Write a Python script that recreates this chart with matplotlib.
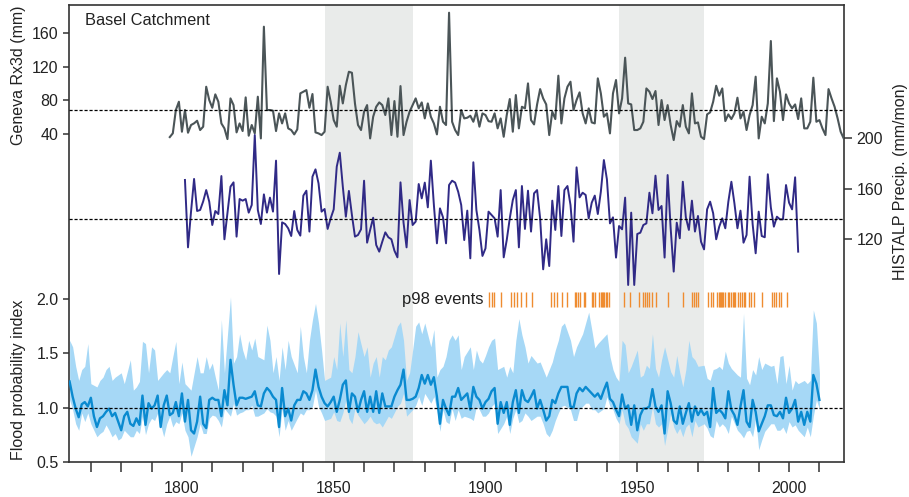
import matplotlib
matplotlib.use('Agg')
import matplotlib.pyplot as plt
import numpy as np

plt.rcParams['font.family'] = ['Liberation Sans', 'DejaVu Sans']

# ---------------- data ----------------
geneva_start = 1796
geneva_rx3d = [
    36.0, 40.5, 68.3, 78.2, 42.4, 68.3, 41.2, 50.4, 52.4, 55.5, 44.4, 48.4, 96.1,
    80.2, 71.0, 87.0, 78.2, 52.3, 46.4, 33.6, 82.2, 74.2, 41.6, 52.3, 43.2, 83.4, 37.6, 50.4, 40.4, 84.2, 34.4, 167.8,
    68.3, 68.3, 67.5, 43.2, 64.3, 52.3, 64.3, 46.4, 44.4, 39.2,
    45.2, 88.2, 90.2, 92.1, 71.0, 87.4, 41.6, 40.4, 38.4, 42.4,
    96.1, 78.2, 56.3, 48.4, 97.3, 76.2, 98.1, 114.0, 112.8, 76.2,
    50.4, 44.4, 66.3, 74.2, 34.4, 60.3, 72.2, 77.4, 74.2, 62.3,
    82.2, 38.4, 79.0, 36.4, 96.9, 38.4, 54.3, 66.3, 74.2, 82.2,
    70.3, 77.4, 58.3, 76.2, 60.3, 52.3, 39.2, 72.2, 54.3, 50.4,
    184.5,
    54.3, 44.4, 38.4, 68.3, 58.3, 59.1, 61.5, 54.3, 66.3, 48.4, 64.3, 62.3, 55.0, 54.3, 64.3, 46.4, 58.3, 36.4,
    62.3, 81.4, 42.4, 86.2, 46.4, 72.2, 70.3, 100.1, 56.3, 51.1,
    75.0, 93.3, 82.2, 75.0, 38.4, 66.3, 57.5, 109.3, 52.3, 82.2,
    96.1, 102.1, 68.3, 80.2, 89.4, 64.3, 52.3, 70.3, 53.5, 52.3,
    106.1, 88.2, 60.3, 64.3, 40.4, 88.2, 104.1, 64.3, 82.2, 130.8,
    76.2, 75.0, 44.4, 44.4, 46.4, 54.3, 94.1, 90.2, 81.4, 91.0,
    50.4, 80.2, 56.3, 74.2, 50.4, 32.4, 55.1, 48.4, 74.2, 48.4,
    40.4, 88.2, 52.3, 53.5, 36.4, 33.6, 63.1, 65.5, 78.2, 97.3,
    85.4, 94.1, 55.1, 63.1, 57.5, 64.3, 83.0, 58.3, 66.3, 44.4,
    62.3, 74.2, 108.1, 34.4, 60.3, 52.3, 76.2, 150.7, 55.1, 106.1,
    90.2, 56.3, 87.0, 76.2, 70.3, 75.0, 57.5, 82.2, 46.4, 46.4,
    54.3, 106.9, 54.3, 56.3, 46.4, 38.4, 93.3, 82.2, 72.2, 58.3,
    42.4, 34.4,
]
geneva_mean = 68.5

histalp_start = 1801
histalp_precip = [
    167.0, 113.6, 141.9, 167.8, 142.4, 143.2, 150.0, 159.0, 149.8, 131.3,
    142.4, 140.0, 170.1, 120.0, 140.6, 161.7, 165.1, 122.1, 151.9, 150.6,
    151.9, 141.1, 147.2, 202.6, 143.2, 132.1, 155.6, 141.1, 153.0, 141.9,
    182.3, 92.5, 133.4, 132.1, 128.7, 122.6, 142.4, 127.4, 122.9, 154.6,
    158.5, 126.1, 169.6, 175.4, 164.3, 141.9, 144.0, 128.2, 136.6, 143.7,
    177.5, 188.6, 161.7, 137.9, 158.3, 139.2, 122.1, 123.4, 127.9, 166.4,
    117.3, 127.4, 137.1, 115.5, 110.2, 118.1, 125.5, 121.6, 120.0, 111.0,
    105.7, 165.1, 133.2, 113.6, 151.1, 131.3, 134.0, 163.8, 152.4, 164.9,
    145.3, 182.3, 147.2, 116.8, 144.5, 137.4, 116.8, 163.0, 166.4, 164.9,
    157.7, 147.2, 119.4, 142.7, 104.9, 181.0, 143.2, 127.4, 106.8, 112.8,
    141.9, 139.2, 136.6, 122.1, 159.0, 105.7,
    119.4, 136.6, 151.1, 159.0, 113.6, 162.2, 128.2, 158.5, 126.1, 156.4,
    159.0, 136.6, 96.2, 120.0, 98.8, 150.6, 127.4, 162.2, 122.6, 159.0,
    162.2, 147.2, 118.1, 177.0, 153.2, 156.9, 155.1, 136.6, 149.0, 154.6,
    140.0, 157.7, 182.8, 167.5, 132.6, 137.4, 105.5, 130.5, 127.9, 153.0,
    83.8, 141.1, 83.8, 124.2, 125.2, 131.3, 132.6, 156.9, 140.6, 170.4,
    143.2, 146.4, 105.5, 170.9, 128.7, 94.4, 133.2, 120.8, 165.6, 137.4,
    127.4, 150.6, 126.1, 138.5, 118.1, 112.0, 143.7, 149.8, 140.6, 120.0,
    130.0, 136.6, 128.7, 149.8, 165.6, 148.5, 128.7, 142.7, 117.3, 123.4,
    169.6, 132.1, 108.9, 141.9, 122.6, 121.6, 171.5, 145.3, 130.0, 137.9,
    135.8, 135.8, 163.0, 149.0, 143.7, 169.1, 110.2,
]
histalp_mean = 136.0

flood_start = 1763
flood_index = [
    1.24, 1.10, 0.99, 0.91, 1.03, 1.05, 1.01, 1.09, 0.92, 0.82,
    0.90, 0.92, 0.96, 0.99, 0.92, 0.95, 0.87, 0.79, 0.92, 0.96,
    0.85, 0.83, 0.90, 0.84, 1.11, 0.84, 1.04, 0.99, 1.02, 1.11,
    0.82, 1.02, 1.11, 0.93, 0.95, 1.05, 0.92, 1.13, 0.87, 1.07,
    0.79, 0.76, 0.87, 1.10, 0.85, 0.81, 1.07, 1.09, 1.07, 1.07,
    0.92, 1.16, 1.02, 1.44, 1.21, 1.02, 1.09, 1.09, 1.08, 1.09,
    1.10, 1.15, 1.02, 1.01, 1.13, 1.18, 1.15, 1.10, 1.07, 0.82,
    1.18, 0.92, 0.99, 0.88, 1.02, 1.07, 1.07, 1.15, 1.13, 1.07,
    1.16, 1.35, 1.19, 1.10, 1.04, 1.01, 1.05, 1.10, 0.96, 1.07,
    1.21, 1.25, 0.96, 1.13, 1.10, 0.96, 1.07, 1.15, 0.96, 1.10,
    0.96, 1.15, 0.95, 1.13, 1.01, 1.01, 1.01, 1.10, 1.16, 1.21,
    1.35, 1.07, 1.07, 1.08, 1.10, 1.18, 1.30, 1.22, 1.30, 1.21,
    1.28, 1.10, 0.85, 1.07, 0.99, 0.93, 1.10,
    1.10, 1.18, 1.07, 1.10, 1.13, 0.98, 1.19, 1.10, 1.07, 0.99,
    1.05, 1.08, 1.15, 1.18, 0.85, 1.05, 0.95, 1.05, 0.84, 1.05,
    1.16, 0.95, 1.16, 1.07, 1.05, 1.10, 1.16, 0.99, 1.07, 0.98,
    0.88, 0.92, 1.07, 1.04, 1.13, 1.19, 1.19, 1.19, 1.01, 1.00,
    1.13, 1.18, 1.15, 1.19, 1.16, 1.13, 1.10, 1.13, 1.08, 1.16,
    1.23, 1.08, 1.05, 0.98, 0.92, 1.12, 0.99, 1.02, 0.84, 1.02,
    0.79, 0.93, 0.99, 0.99, 1.01, 1.17, 1.01, 0.96, 1.02, 0.76,
    1.15, 1.04, 0.88, 0.85, 1.01, 0.85, 0.95, 1.04, 0.87, 1.01,
    0.93, 0.98, 0.93, 0.96, 0.82, 1.18, 0.95, 0.98, 0.95, 0.90,
    1.15, 0.98, 0.93, 0.84, 1.01, 1.16, 0.87, 0.82, 1.07, 0.96,
    0.78, 0.85, 0.92, 1.02, 1.02, 0.93, 0.92, 0.96, 0.90, 1.09,
    0.95, 0.99, 1.07, 0.87, 0.96, 0.84, 0.96, 0.87, 1.30, 1.22, 1.07,
]

band_years = [
    1763, 1764, 1765, 1766, 1767, 1768, 1769, 1770, 1772, 1773,
    1774, 1775, 1776, 1777, 1778, 1779, 1780, 1781, 1783, 1784,
    1785, 1786, 1787, 1788, 1789, 1790, 1791, 1792, 1794, 1795,
    1796, 1797, 1798, 1799, 1800, 1801, 1802, 1803, 1805, 1806,
    1807, 1808, 1809, 1810, 1811, 1812, 1813, 1814, 1816, 1817,
    1818, 1819, 1820, 1821, 1822, 1823, 1824, 1825, 1827, 1828,
    1829, 1830, 1831, 1832, 1833, 1834, 1835, 1836, 1838, 1839,
    1840, 1841, 1842, 1843, 1844, 1845, 1846, 1847, 1849, 1850,
    1851, 1852, 1853, 1854, 1855, 1856, 1857, 1858, 1860, 1861,
    1862, 1863, 1864, 1865, 1866, 1867, 1868, 1869, 1871, 1872,
    1873, 1874, 1875, 1876, 1877, 1878, 1879, 1880, 1882, 1883,
    1884, 1885, 1886, 1887, 1888, 1889,
    1890, 1891, 1892, 1893, 1895, 1896, 1897, 1898, 1899, 1900,
    1901, 1902, 1903, 1904, 1906, 1907, 1908, 1909, 1910, 1911,
    1912, 1913, 1914, 1915, 1917, 1918, 1919, 1920, 1921, 1922,
    1923, 1924, 1925, 1926, 1928, 1929, 1930, 1931, 1932, 1933,
    1934, 1935, 1936, 1937, 1939, 1940, 1941, 1942, 1943, 1944,
    1945, 1946, 1947, 1948, 1950, 1951, 1952, 1953, 1954, 1955,
    1956, 1957, 1958, 1959, 1961, 1962, 1963, 1964, 1965, 1966,
    1967, 1968, 1969, 1970, 1972, 1973, 1974, 1975, 1976, 1977,
    1978, 1979, 1980, 1981, 1983, 1984, 1985, 1986, 1987, 1988,
    1989, 1990, 1991, 1992, 1994, 1995, 1996, 1997, 1998, 1999,
    2000, 2001, 2002, 2003, 2005, 2006, 2007, 2008, 2009, 2010,
]
band_upper = [
    1.62, 1.56, 1.38, 1.25, 1.35, 1.38, 1.59, 1.22, 1.19, 1.25,
    1.28, 1.35, 1.38, 1.25, 1.28, 1.30, 1.32, 1.22, 1.44, 1.16,
    1.19, 1.24, 1.61, 1.59, 1.32, 1.56, 1.53, 1.25, 1.32, 1.35,
    1.32, 1.47, 1.61, 1.22, 1.42, 1.22, 1.19, 1.16, 1.47, 1.32,
    1.32, 1.47, 1.35, 1.41, 1.28, 1.16, 1.81, 1.32, 2.02, 1.41,
    1.47, 1.68, 1.53, 1.44, 1.62, 1.53, 1.64, 1.47, 1.44, 1.76,
    1.62, 1.32, 1.47, 1.25, 1.56, 1.35, 1.62, 1.47, 1.32, 1.75,
    1.47, 1.32, 1.62, 1.81, 1.96, 1.78, 1.53, 1.25, 1.28, 1.47,
    1.35, 1.78, 1.47, 1.81, 1.35, 1.32, 1.47, 1.70, 1.47, 1.56,
    1.28, 1.41, 1.47, 1.28, 1.47, 1.44, 1.53, 1.56, 1.75, 1.79,
    1.62, 1.25, 1.32, 1.53, 1.75, 1.79, 1.68, 1.78, 1.56, 1.72,
    1.28, 1.35, 1.38, 1.47, 1.62, 1.67,
    1.62, 1.67, 1.35, 1.47, 1.56, 1.35, 1.53, 1.44, 1.41, 1.48,
    1.56, 1.62, 1.64, 1.35, 1.38, 1.28, 1.38, 1.32, 1.62, 1.82,
    1.67, 1.56, 1.41, 1.48, 1.41, 1.42, 1.35, 1.28, 1.35, 1.42,
    1.53, 1.62, 1.75, 1.78, 1.62, 1.47, 1.56, 1.62, 1.68, 1.78,
    1.88, 1.72, 1.55, 1.59, 1.65, 1.68, 1.47, 1.35, 1.28, 1.24,
    1.62, 1.58, 1.32, 1.38, 1.53, 1.28, 1.30, 1.39, 1.36, 1.68,
    1.36, 1.28, 1.44, 1.56, 1.33, 1.28, 1.48, 1.32, 1.19, 1.35,
    1.62, 1.47, 1.44, 1.38, 1.39, 1.27, 1.25, 1.35, 1.36, 1.38,
    1.35, 1.52, 1.41, 1.36, 1.30, 1.28, 1.87, 1.27, 1.21, 1.35,
    1.30, 1.47, 1.35, 1.41, 1.38, 1.39, 1.22, 1.47, 1.48, 1.22,
    1.39, 1.16, 1.25, 1.22, 1.25, 1.22, 1.25, 1.90, 1.78, 1.32,
]
band_lower = [
    1.07, 0.98, 0.85, 0.79, 0.95, 0.87, 0.95, 0.85, 0.73, 0.76,
    0.78, 0.84, 0.79, 0.73, 0.76, 0.70, 0.72, 0.79, 0.73, 0.73,
    0.79, 0.76, 0.92, 0.75, 0.85, 0.90, 0.88, 0.95, 0.73, 0.85,
    0.92, 0.82, 0.87, 0.85, 0.95, 0.79, 0.73, 0.55, 0.73, 0.85,
    0.76, 0.76, 0.90, 0.93, 0.92, 0.88, 0.82, 0.99, 0.92, 1.04,
    0.93, 0.95, 0.96, 0.98, 0.98, 1.02, 0.92, 0.92, 0.95, 0.99,
    0.96, 0.95, 0.92, 0.73, 0.99, 0.79, 0.88, 0.79, 0.90, 0.95,
    0.93, 0.98, 0.98, 1.01, 1.16, 1.01, 0.95, 0.88, 0.90, 0.96,
    0.88, 0.87, 0.95, 1.07, 0.90, 0.85, 0.99, 0.93, 0.85, 0.88,
    0.92, 0.87, 0.85, 0.86, 0.82, 0.87, 0.92, 0.90, 1.01, 1.04,
    1.13, 0.92, 0.95, 0.98, 1.02, 1.10, 1.02, 1.13, 1.04, 1.10,
    0.98, 0.78, 0.98, 0.87, 0.85, 0.99,
    0.88, 0.98, 0.90, 0.92, 0.90, 0.88, 1.01, 0.98, 0.92, 0.92,
    0.95, 1.01, 1.04, 0.76, 0.85, 0.92, 0.76, 0.90, 0.98, 0.86,
    0.88, 0.95, 0.92, 0.88, 0.92, 0.92, 0.85, 0.76, 0.73, 0.79,
    0.88, 0.95, 1.01, 1.02, 0.98, 0.88, 0.88, 0.99, 1.01, 1.04,
    1.04, 0.98, 0.98, 0.95, 0.99, 1.10, 1.01, 0.98, 0.90, 0.85,
    0.98, 0.85, 0.81, 0.73, 0.67, 0.85, 0.79, 0.85, 0.85, 1.01,
    0.85, 0.82, 0.85, 0.65, 0.95, 0.82, 0.76, 0.81, 0.73, 0.82,
    0.85, 0.73, 0.88, 0.82, 0.85, 0.81, 0.74, 0.72, 0.88, 0.82,
    0.85, 0.82, 0.76, 0.92, 0.79, 0.76, 0.72, 0.78, 0.79, 0.73,
    0.90, 0.61, 0.70, 0.78, 0.85, 0.85, 0.79, 0.79, 0.82, 0.76,
    0.87, 0.82, 0.84, 0.79, 0.73, 0.82, 0.73, 0.92, 1.07, 0.99,
]

p98_events = [
    1901.3, 1902.0, 1902.8, 1905.1, 1908.4, 1909.5, 1910.3, 1911.6, 1913.3, 1915.2,
    1921.6, 1922.5, 1923.6, 1925.3, 1926.7, 1929.4, 1929.9, 1930.5, 1931.2, 1932.5, 1932.7,
    1935.1, 1935.5, 1936.2, 1937.5, 1938.0, 1938.3, 1938.8, 1939.2, 1939.6, 1940.1, 1940.6,
    1945.6, 1947.7, 1950.7, 1952.0, 1952.7, 1953.1, 1953.9, 1954.9, 1956.1, 1960.1,
    1965.0, 1968.0, 1968.7, 1969.4, 1970.1, 1973.2, 1974.3, 1975.1, 1976.2, 1976.9,
    1977.3, 1977.6, 1977.9, 1978.4, 1979.0, 1979.8, 1980.3, 1980.9, 1981.4, 1981.9,
    1982.3, 1983.1, 1983.9, 1984.5, 1985.2, 1985.6, 1986.7, 1987.6, 1988.4, 1991.2,
    1994.3, 1995.0, 1995.8, 1996.7, 1997.5, 1999.3,
]

shade_periods = [(1847, 1876), (1944, 1972)]

xtick_years = list(range(1770, 2011, 10))
xtick_labelled = [1800, 1850, 1900, 1950, 2000]
geneva_ticks = [40, 80, 120, 160]
histalp_ticks = [120, 160, 200]
flood_ticks = [0.5, 1.0, 1.5, 2.0]

# ---------------- figure ----------------
W, H = 909, 497
fig = plt.figure(figsize=(W / 100, H / 100), dpi=100)
L, R, T, B = 69, 844, 4.5, 461.7
rect = [L / W, 1 - B / H, (R - L) / W, (B - T) / H]

ax = fig.add_axes(rect)
axg = fig.add_axes(rect, sharex=ax)
axh = fig.add_axes(rect, sharex=ax)

spine_col = '#333333'
txt_col = '#222222'

for a in (axg, axh):
    a.patch.set_visible(False)
    for s in a.spines.values():
        s.set_visible(False)
    a.tick_params(axis='x', which='both', bottom=False, top=False,
                  labelbottom=False, labeltop=False)

for s in ax.spines.values():
    s.set_color(spine_col)
    s.set_linewidth(1.2)

ax.set_xlim(1762.8, 2018.1)
ax.set_ylim(0.5, 4.718)
axg.set_ylim(-351.6, 194.3)
axh.set_ylim(-56.2, 306.0)

# shaded periods
for (a0, a1) in shade_periods:
    ax.axvspan(a0, a1, color='#e9ebea', zorder=0, lw=0)

# flood probability
fy = np.arange(flood_start, flood_start + len(flood_index))
ax.fill_between(band_years, band_lower, band_upper, color='#a6d8f6',
                lw=0, zorder=1)
ax.plot(fy, flood_index, color='#0a8ad0', lw=1.7, zorder=3)
ax.axhline(1.0, color='black', lw=0.9, ls=(0, (2.5, 1.5)), zorder=4)

# p98 events
ax.vlines(p98_events, 1.93, 2.07, color='#ef8c30', lw=1.0, zorder=3)
ax.text(1899.4, 2.0, 'p98 events', ha='right', va='center',
        fontsize=12, color=txt_col)

# Geneva
gy = np.arange(geneva_start, geneva_start + len(geneva_rx3d))
axg.plot(gy, geneva_rx3d, color='#4b5558', lw=1.5, zorder=3)
axg.axhline(geneva_mean, color='black', lw=0.9, ls=(0, (2.5, 1.5)), zorder=4)

# HISTALP
hy = np.arange(histalp_start, histalp_start + len(histalp_precip))
axh.plot(hy, histalp_precip, color='#302a86', lw=1.4, zorder=3)
axh.axhline(histalp_mean, color='black', lw=0.9, ls=(0, (2.5, 1.5)), zorder=4)

# ticks
ax.set_xticks(xtick_years)
ax.set_xticklabels([str(y) if y in xtick_labelled else '' for y in xtick_years])
ax.tick_params(axis='x', direction='out', length=7, width=1.1, pad=7,
               labelsize=11.5, colors=spine_col, labelcolor=txt_col)
ax.set_yticks(flood_ticks)
ax.set_yticklabels(['%.1f' % v for v in flood_ticks])
ax.tick_params(axis='y', direction='out', length=4.5, width=1.1, pad=3,
               labelsize=11.5, colors=spine_col, labelcolor=txt_col)

axg.set_yticks(geneva_ticks)
axg.set_yticklabels([str(v) for v in geneva_ticks])
axg.tick_params(axis='y', direction='out', length=4.5, width=1.1, pad=3,
                labelsize=11.5, colors=spine_col, labelcolor=txt_col)

axh.yaxis.tick_right()
axh.set_yticks(histalp_ticks)
axh.set_yticklabels([str(v) for v in histalp_ticks])
axh.tick_params(axis='y', direction='out', length=6, width=1.1, pad=3,
                labelsize=11.5, colors=spine_col, labelcolor=txt_col)

# labels
ax.text(0.0206, 0.964, 'Basel Catchment', transform=ax.transAxes,
        ha='left', va='center', fontsize=11.8, color=txt_col)
fig.text(18.5 / W, 1 - 75 / H, 'Geneva Rx3d (mm)', rotation=90,
         ha='center', va='center', fontsize=11.5, color=txt_col)
fig.text(18.5 / W, 1 - 380 / H, 'Flood probability index', rotation=90,
         ha='center', va='center', fontsize=11.5, color=txt_col)
fig.text(901 / W, 1 - 182 / H, 'HISTALP Precip. (mm/mon)', rotation=90,
         ha='center', va='center', fontsize=11.5, color=txt_col)

fig.savefig('out.png', dpi=100)
